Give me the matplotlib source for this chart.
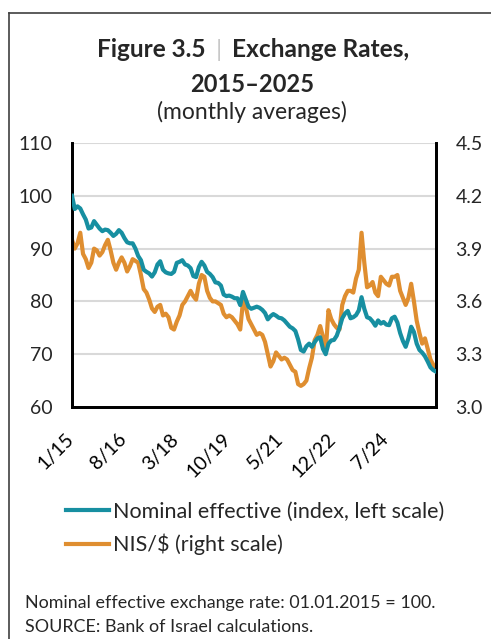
import numpy as np
import matplotlib
matplotlib.use("Agg")
import matplotlib.pyplot as plt
from matplotlib.lines import Line2D
from matplotlib.transforms import ScaledTranslation

plt.rcParams['font.family'] = ['Lato', 'DejaVu Sans']

# monthly values, Jan 2015 onwards
nominal_effective = [
    100.0, 97.5, 98.0, 97.6, 96.5, 95.5, 93.8, 94.0, 95.2, 94.5, 93.8, 93.3,
    93.6, 93.5, 93.0, 92.4, 92.8, 93.5, 93.0, 92.0, 91.2, 91.0, 91.0, 90.0,
    88.6, 87.8, 86.0, 85.6, 85.3, 84.7, 85.5, 87.0, 87.6, 86.0, 85.5, 85.3,
    85.2, 85.6, 87.3, 87.5, 87.8, 87.0, 86.8, 86.3, 84.8, 84.6, 86.5, 87.5,
    86.8, 85.6, 85.2, 84.6, 83.6, 83.5, 83.0, 81.3, 81.0, 81.1, 80.9, 80.6,
    80.6, 79.3, 81.8, 80.4, 79.0, 78.6, 78.8, 79.0, 78.8, 78.4, 77.8, 76.6,
    77.2, 77.6, 77.3, 76.9, 76.8, 76.4, 75.8, 75.2, 74.9, 74.4, 72.8, 70.8,
    70.5, 71.5, 72.0, 71.4, 72.3, 73.0, 73.2, 71.0, 70.0, 72.0, 72.6, 72.7,
    73.5, 75.0, 76.8, 77.7, 78.2, 76.8, 77.0, 77.4, 78.3, 80.8, 78.6, 77.0,
    76.8, 76.2, 75.4, 76.4, 75.8, 76.1, 75.6, 75.5, 76.8, 77.1, 76.0, 74.0,
    72.5, 71.4, 73.0, 75.2, 74.2, 72.0, 70.8, 70.3, 69.6, 68.6, 67.5, 67.0,
    66.7,
]
nis_usd = [
    3.95, 3.90, 3.93, 3.99, 3.87, 3.84, 3.79, 3.82, 3.90, 3.89, 3.86, 3.88,
    3.92, 3.95, 3.89, 3.82, 3.78, 3.82, 3.85, 3.82, 3.77, 3.80, 3.84, 3.83,
    3.82, 3.75, 3.67, 3.65, 3.61, 3.56, 3.54, 3.57, 3.58, 3.52, 3.53, 3.51,
    3.45, 3.44, 3.485, 3.52, 3.58, 3.60, 3.63, 3.66, 3.63, 3.61, 3.70, 3.75,
    3.74, 3.66, 3.62, 3.60, 3.60, 3.59, 3.58, 3.53, 3.51, 3.52, 3.51, 3.49,
    3.47, 3.44, 3.60, 3.57, 3.50, 3.47, 3.44, 3.41, 3.42, 3.41, 3.37, 3.30,
    3.23, 3.26, 3.31, 3.29, 3.27, 3.28, 3.27, 3.24, 3.21, 3.20, 3.13, 3.12,
    3.13, 3.15, 3.22, 3.28, 3.38, 3.41, 3.46, 3.40, 3.31, 3.55, 3.50, 3.47,
    3.45, 3.44, 3.58, 3.63, 3.66, 3.66, 3.65, 3.73, 3.78, 3.99, 3.82, 3.68,
    3.69, 3.71, 3.65, 3.63, 3.74, 3.72, 3.70, 3.69, 3.74, 3.74, 3.75, 3.66,
    3.62, 3.58, 3.62, 3.70, 3.60, 3.49, 3.42, 3.36, 3.39, 3.33, 3.27, 3.24,
    3.21,
]
tick_labels = ['1/15', '8/16', '3/18', '10/19', '5/21', '12/22', '7/24']
tick_step = 19

teal = '#178FA1'
orange = '#DF8E30'
text_color = '#262626'

fig = plt.figure(figsize=(4.91, 6.39), dpi=100)
W, H = 491, 639

# outer frame of the box
fig.add_artist(Line2D([9 / W, 9 / W], [0, 1 - 13 / H], color='#404040', lw=1.2))
fig.add_artist(Line2D([9 / W, 1], [1 - 13 / H, 1 - 13 / H], color='#404040', lw=1.2))

ax = fig.add_axes([72 / W, 1 - 407 / H, 364 / W, 264 / H])
ax2 = ax.twinx()

x = np.arange(len(nominal_effective))
ax.plot(x, nominal_effective, color=teal, lw=3.0, solid_joinstyle='round', zorder=3)
ax2.plot(x, nis_usd, color=orange, lw=3.0, solid_joinstyle='round', zorder=2)
ax.set_zorder(ax2.get_zorder() + 1)
ax.patch.set_visible(False)

ax.set_xlim(0, len(x) - 1)
ax.set_ylim(60, 110)
ax2.set_ylim(3.0, 4.5)
ax.set_yticks([60, 70, 80, 90, 100, 110])
ax2.set_yticks([3.0, 3.3, 3.6, 3.9, 4.2, 4.5])
ax2.set_yticklabels(['3.0', '3.3', '3.6', '3.9', '4.2', '4.5'])

for y in [70, 80, 90, 100, 110]:
    ax2.axhline(3.0 + (y - 60) * 0.03, color='#d9d9d9', lw=1.5, zorder=0)

for a in (ax, ax2):
    for s in ['left', 'right', 'bottom']:
        a.spines[s].set_color('black')
        a.spines[s].set_linewidth(2)
    a.spines['top'].set_visible(False)
    a.tick_params(axis='y', length=0, labelsize=14, labelcolor=text_color, pad=14)

ax.set_xticks(x[::tick_step])
ax.set_xticklabels(tick_labels, rotation=45, ha='right', va='top', fontsize=14,
                   color='black')
ax.tick_params(axis='x', length=0, pad=17)
offset = ScaledTranslation(5 / 100, 0, fig.dpi_scale_trans)
for lab in ax.get_xticklabels():
    lab.set_transform(lab.get_transform() + offset)

# title, with a light grey separator bar
r = fig.canvas.get_renderer()
parts = [('Figure 3.5', 'bold', text_color), ('|', 'normal', '#c8c8c8'),
         ('Exchange Rates,', 'bold', text_color)]
gap = 10
objs = [fig.text(0, 1 - 57 / H, s, fontsize=17.6, fontweight=w, color=c, va='baseline')
        for s, w, c in parts]
widths = [o.get_window_extent(r).width for o in objs]
total = sum(widths) + gap * (len(objs) - 1)
cx = 253 - total / 2
for o, w in zip(objs, widths):
    o.set_x(cx / W)
    cx += w + gap

fig.text(252 / W, 1 - 91.5 / H, '2015\u20132025', fontsize=17, fontweight='bold',
         color=text_color, ha='center', va='baseline')
fig.text(252 / W, 1 - 119 / H, '(monthly averages)', fontsize=16.5,
         color=text_color, ha='center', va='baseline')

handles = [Line2D([], [], color=teal, lw=3.0), Line2D([], [], color=orange, lw=3.0)]
fig.legend(handles, ['Nominal effective (index, left scale)', 'NIS/$ (right scale)'],
           loc='upper left', bbox_to_anchor=(66 / W, 1 - 502 / H), frameon=False,
           fontsize=15.5, handlelength=2.0, handletextpad=0.2, labelspacing=0.55,
           labelcolor=text_color, borderaxespad=0, borderpad=0)

fig.text(25 / W, 1 - 608 / H, 'Nominal effective exchange rate: 01.01.2015 = 100.',
         fontsize=12.9, color=text_color, va='baseline')
fig.text(25 / W, 1 - 632 / H, 'SOURCE: Bank of Israel calculations.',
         fontsize=12.9, color=text_color, va='baseline')

fig.savefig('out.png', dpi=100)
